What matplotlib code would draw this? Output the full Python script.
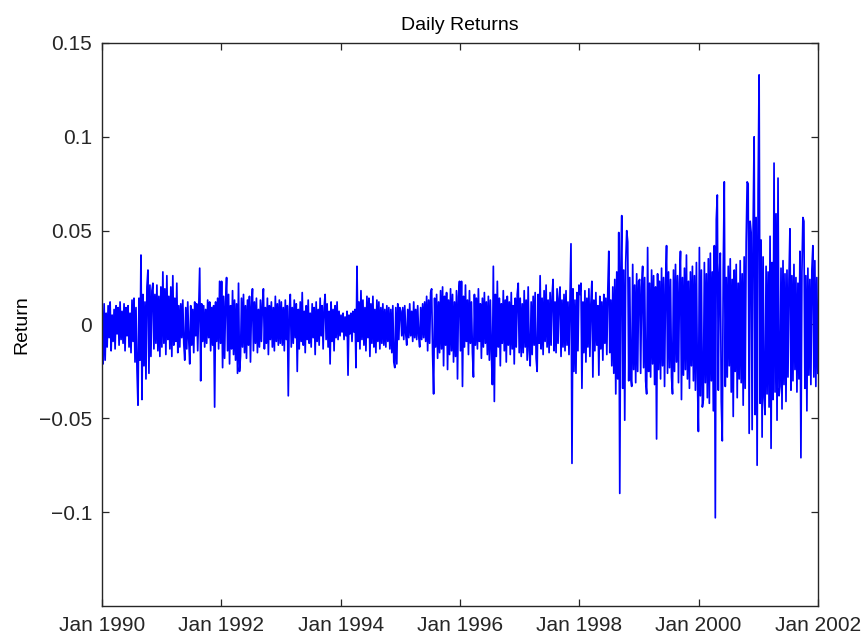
import matplotlib
matplotlib.use('Agg')
import matplotlib.pyplot as plt
import numpy as np
import pandas as pd

r1990 = [0.9, -2.1, 1.1, -1.9, 0.6, -1.2, 1.0, -0.7, 1.2, -1.4, 0.5, -0.9, 0.8, -1.3, 1.0, -0.5, 0.9, -1.1, 1.2, -0.8,
         0.7, -1.0, 1.1, -1.4, 0.9, -0.6, 1.0, -1.2, 0.6, -1.5, 1.3, -0.9, 1.4, -2.0, 0.9, -2.4, -4.3, 1.4, -1.9, 3.7,
         -4.0, 1.6, -2.2, 1.2, -2.9, 2.0, 2.9, -2.6, 2.1, -1.7, 1.8, 2.2, -1.3, 1.6, -1.0, 2.1, -1.4, 1.5, -1.7, 2.0]
r1991 = [-1.2, 2.8, -1.0, 1.9, -1.6, 2.6, -0.8, 1.5, -1.3, 2.0, -1.7, 2.6, -1.1, 1.4, -0.9, 2.2, -1.5, 1.0, -1.2, 1.1,
         -0.7, 1.3, -1.0, -1.9, 0.9, -1.3, 1.2, -0.8, -2.1, 1.0, -1.1, 0.8, -1.5, 1.2, -0.6, 1.1, -1.4, 0.9, 3.0, -3.0,
         1.1, -0.9, 1.0, -1.2, 0.8, -1.0, 1.3, -0.7, 1.2, -1.4, 0.9, -1.1, 1.0, -4.4, 1.2, -0.9, 1.4, -1.3, 2.3, -1.0]
r1992 = [2.3, -2.3, 1.5, -1.8, 1.2, 2.5, -1.4, 1.6, -2.1, 1.0, -1.3, 1.8, -1.6, 1.3, -1.9, 1.1, -2.6, 2.2, -2.5, -1.7,
         1.4, -1.2, 1.6, -1.5, 1.0, -1.8, 1.3, -1.1, 1.5, -2.0, 0.9, 1.9, -1.4, 1.2, -1.0, 1.4, -1.5, 0.8, -1.2, 1.3,
         -0.9, 1.1, 1.9, -1.3, 0.9, -1.0, 1.4, -1.6, 1.0, -0.8, 1.2, -1.2, 0.9, -1.4, 1.5, -0.9, 1.1, -1.1, 1.3, -1.0]
r1993 = [1.2, -1.1, 0.9, -1.4, 1.3, -0.8, 1.0, -3.8, 0.7, 1.6, -1.2, 0.9, -1.0, 1.3, -0.7, 1.1, -2.5, 0.8, -1.3, 1.2,
         -0.9, 1.7, -1.1, 0.7, -1.5, 1.0, -0.8, 1.3, -1.0, 0.6, -1.2, 1.1, -0.7, 0.9, -1.6, 1.2, -0.9, 0.8, -1.1, 1.4,
         -0.6, 1.0, -1.3, 0.9, 1.6, -0.8, 1.1, -1.2, 0.7, -2.1, 1.2, -0.9, 0.8, -1.4, 1.0, -0.7, 1.2, -0.8, 0.7, -0.6]
r1994 = [0.5, -0.4, 0.6, -0.8, 0.4, -0.6, 0.7, -2.7, 0.5, -0.5, 0.6, -0.9, 0.7, -0.4, 0.8, -2.3, 3.1, -0.9, 1.2, -1.3,
         1.8, -0.8, 1.3, -1.1, 0.9, -1.4, 1.5, -0.7, 1.4, -1.7, 1.1, -1.0, 1.5, -1.2, 0.8, -1.5, 1.3, -0.9, 1.2, -1.3,
         0.9, -1.0, 1.1, -1.1, 0.8, -1.2, 1.0, -0.9, 0.9, -1.3, 0.8, -1.5, 1.0, -2.0, -2.3, 0.9, -2.1, 1.1, -0.8, 0.9]
r1995 = [0.7, -0.6, 0.9, -0.8, 1.0, -0.5, -1.1, 0.8, -0.7, 1.1, -0.6, 0.7, -0.9, 1.2, -0.7, 0.8, -0.8, 1.0, -0.6, -1.2,
         0.9, -0.8, 1.1, -0.7, 1.2, -0.9, 1.5, -1.4, 1.3, -1.0, 1.7, 1.9, -1.6, -3.7, 1.4, -1.2, 1.6, -1.8, 1.2, -1.5,
         1.8, -1.3, 2.0, -2.2, 1.5, -1.1, 1.7, -2.4, 1.3, -1.6, 1.9, -1.4, 1.6, -2.0, 1.2, -1.7, 1.8, -2.9, 1.5, 2.3]
r1996 = [-1.4, 2.3, -3.3, 1.5, -1.2, 2.1, -0.9, 1.3, -1.6, 1.8, -1.0, 1.2, -1.5, -2.8, 1.6, -1.1, 1.4, -1.3, 1.9, -0.9,
         1.1, -1.8, 1.4, -1.2, 1.7, -1.0, 1.2, -1.6, 1.5, -1.9, 1.3, -1.5, -3.2, 3.1, -4.1, 1.6, -1.7, 2.3, -1.2, 1.4,
         -2.2, 1.1, -1.0, 1.8, -1.4, 1.3, -2.0, 1.5, -1.1, 1.2, -1.6, 1.7, -1.3, 1.0, -2.1, 1.4, -1.2, 1.6, 2.2, -1.5]
r1997 = [1.4, -1.7, 1.1, -1.5, 1.8, -1.2, 1.3, -1.9, 2.0, -1.4, -2.2, 1.2, -1.6, 1.5, -1.1, 1.7, -1.8, -2.5, 1.6, -1.0,
         2.6, -1.3, 1.4, -1.6, 1.8, -0.9, 2.1, -1.2, 1.3, -1.5, 1.7, -1.1, 1.5, 2.4, -1.4, 1.2, -1.5, 1.9, -1.0, 1.4,
         2.0, -1.7, 1.3, -1.2, 1.6, -1.4, 1.8, -1.1, 1.2, -1.6, 1.5, 4.3, -7.4, 1.9, -2.5, 1.3, -2.6, 1.7, -1.4, 2.1]
r1998 = [1.6, 2.2, -3.4, 1.2, -1.5, 1.8, -2.0, 1.4, -1.2, 1.9, -1.7, 1.1, 2.3, -2.8, 1.3, -1.4, 1.7, -1.1, 1.0, -2.7,
         1.5, -1.3, 1.2, -1.9, 1.6, -1.0, 1.4, -1.6, 1.8, 3.9, -1.5, 1.3, -2.2, 2.0, -2.6, 2.4, -3.7, 2.8, -2.9, 4.9,
         -9.0, 2.6, 5.8, -3.4, 2.9, -5.1, 3.3, 5.0, 4.4, -3.0, 2.5, -2.8, -3.3, 3.2, -2.4, 2.1, -3.1, 2.7, -2.5, 2.3]
r1999 = [2.4, -2.6, 2.0, 3.1, -2.3, 2.5, -3.0, -3.7, 4.1, -2.5, 2.2, -2.8, 2.9, -2.1, 2.6, -3.2, 2.0, -6.1, 2.7, -2.4,
         2.3, -2.9, 3.0, -2.2, 2.5, -3.3, 2.1, 4.2, -2.6, 2.8, -2.3, 2.4, -2.8, -3.7, 2.9, -2.5, 3.2, -2.0, 2.6, -3.1,
         2.2, 3.9, -4.0, 2.5, -2.7, 3.0, -2.4, 3.7, -2.9, 2.3, -3.4, 2.8, -2.2, 3.1, -3.0, 2.6, -3.5, 3.3, -2.8, -5.7]
r2000 = [4.1, -3.8, 2.9, -4.4, -4.0, 3.3, -3.1, 2.7, -3.9, 3.5, -4.2, 3.8, -3.0, 2.8, -4.6, 4.2, -10.3, 5.6, 6.9, -3.5,
         2.6, 3.8, -4.1, -6.2, 3.0, 7.6, -3.3, 2.5, -2.8, 3.1, -2.2, 3.5, -3.6, 2.4, -4.9, 2.9, -2.5, 3.2, -3.9, 2.2,
         -2.9, 3.4, -3.1, 2.7, -4.3, 3.6, -3.4, 4.4, 7.6, 7.5, -5.8, 5.5, 4.9, -5.6, 5.3, 10.0, -4.8, 5.7, -7.5, 7.2]
r2001 = [13.3, -4.2, 4.5, -6.0, 3.6, -3.9, -4.8, 3.1, -3.7, 2.8, -4.4, 4.7, -6.6, 3.3, -4.0, 8.6, -3.6, 5.9, -5.1, 7.8,
         -3.8, -3.3, 3.0, -4.5, 3.4, -3.2, 2.7, -4.1, 2.9, -2.8, 2.4, 5.1, -3.5, 2.6, -3.0, 3.2, -2.4, 2.5, -3.6, 2.2,
         -2.9, 3.9, -7.1, 2.8, 5.7, 5.5, -3.4, 2.6, -4.6, 3.0, -2.7, 2.4, -3.2, 2.9, 4.2, -2.8, 3.4, -3.3, 2.5, -2.6]

returns = np.array(r1990 + r1991 + r1992 + r1993 + r1994 + r1995 +
                   r1996 + r1997 + r1998 + r1999 + r2000 + r2001) / 100.0
dates = pd.date_range('1990-01-02', '2001-12-31', periods=len(returns))

ytick_vals = [-0.1, -0.05, 0, 0.05, 0.1, 0.15]
ytick_labels = ['\u22120.1', '\u22120.05', '0', '0.05', '0.1', '0.15']
xtick_years = list(range(1990, 2003, 2))

plt.rcParams['font.family'] = ['Liberation Sans', 'DejaVu Sans']

fig = plt.figure(figsize=(8.68, 6.35), dpi=100)
ax = fig.add_axes([0.1175, 0.0457, 0.8249, 0.8866])
ax.plot(dates, returns, color='#0000ff', lw=1.25)

ax.set_xlim(pd.Timestamp('1990-01-01'), pd.Timestamp('2002-01-01'))
ax.set_ylim(-0.15, 0.15)
ax.set_yticks(ytick_vals)
ax.set_yticklabels(ytick_labels)
ax.set_xticks([pd.Timestamp(f'{y}-01-01') for y in xtick_years])
ax.set_xticklabels([f'Jan {y}' for y in xtick_years])

ax.tick_params(direction='in', length=5, width=0.9, top=True, right=True,
               labelsize=15, colors='#262626', pad=7)
for s in ax.spines.values():
    s.set_linewidth(1.0)
    s.set_color('#262626')

ax.set_title('Daily Returns', fontsize=14, pad=9)
ax.set_ylabel('Return', fontsize=14, labelpad=6)

fig.savefig('out.png', dpi=100)
